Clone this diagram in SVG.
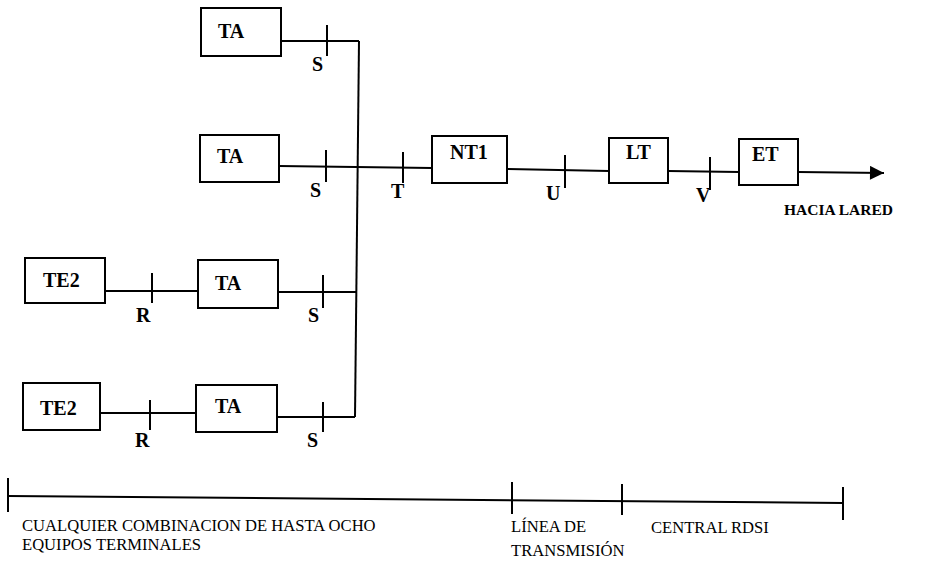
<svg xmlns="http://www.w3.org/2000/svg" width="944" height="564" viewBox="0 0 944 564">
<defs>
<style>
.box{fill:#fff;stroke:#000;stroke-width:2}
.ln{fill:none;stroke:#000;stroke-width:2}
.tk{fill:none;stroke:#000;stroke-width:2}
.bl{font-family:'Liberation Serif','DejaVu Serif','Times New Roman',serif;font-weight:bold;font-size:20px;fill:#000}
.lb{font-family:'Liberation Serif','DejaVu Serif','Times New Roman',serif;font-weight:bold;font-size:20px;fill:#000}
.sm{font-family:'Liberation Serif','DejaVu Serif','Times New Roman',serif;font-weight:bold;font-size:15.5px;fill:#000}
.rg{font-family:'Liberation Serif','DejaVu Serif','Times New Roman',serif;font-size:16.6px;fill:#000}
</style>
<marker id="arr" viewBox="0 0 10 10" refX="10" refY="5" markerWidth="16" markerHeight="14" markerUnits="userSpaceOnUse" orient="auto">
<path d="M0,0 L10,5 L0,10 z" fill="#000"/>
</marker>
</defs>
<rect width="944" height="564" fill="#fff"/>
<g id="connectors">
<path class="ln" d="M281,41 L359,41"/>
<path class="ln" d="M359,41 L355,417"/>
<path class="ln" d="M279,166 L432,168"/>
<path class="ln" d="M507,169 L609,171"/>
<path class="ln" d="M668,171 L739,172"/>
<path class="ln" d="M798,172 L884,173" marker-end="url(#arr)"/>
<path class="ln" d="M105,291 L198,291"/>
<path class="ln" d="M278,292 L357,292"/>
<path class="ln" d="M100,413 L196,413"/>
<path class="ln" d="M277,417 L355,417"/>
<path class="tk" d="M327,25 L327,56"/>
<path class="tk" d="M326,150 L326,182"/>
<path class="tk" d="M403,152 L403,183"/>
<path class="tk" d="M565,155 L565,188"/>
<path class="tk" d="M710,157 L710,190"/>
<path class="tk" d="M152,273 L152,303"/>
<path class="tk" d="M323,275 L323,308"/>
<path class="tk" d="M150,400 L150,430"/>
<path class="tk" d="M323,402 L323,432"/>
</g>
<g id="ta1"><rect class="box" x="201" y="8" width="80" height="48"/><text class="bl" x="218" y="38">TA</text></g>
<g id="ta2"><rect class="box" x="200" y="135" width="79" height="47"/><text class="bl" x="217" y="163">TA</text></g>
<g id="te2a"><rect class="box" x="25" y="258" width="80" height="45"/><text class="bl" x="43" y="287">TE2</text></g>
<g id="ta3"><rect class="box" x="198" y="260" width="80" height="48"/><text class="bl" x="215" y="290">TA</text></g>
<g id="te2b"><rect class="box" x="23" y="383" width="77" height="47"/><text class="bl" x="40" y="415">TE2</text></g>
<g id="ta4"><rect class="box" x="196" y="385" width="81" height="47"/><text class="bl" x="215" y="413">TA</text></g>
<g id="nt1"><rect class="box" x="432" y="136" width="75" height="47"/><text class="bl" x="450" y="159">NT1</text></g>
<g id="lt"><rect class="box" x="609" y="138" width="59" height="45"/><text class="bl" x="626" y="159">LT</text></g>
<g id="et"><rect class="box" x="739" y="139" width="59" height="46"/><text class="bl" x="752" y="161">ET</text></g>
<g id="labels">
<text class="lb" x="312" y="71">S</text>
<text class="lb" x="310" y="197">S</text>
<text class="lb" x="391" y="198">T</text>
<text class="lb" x="546" y="200">U</text>
<text class="lb" x="696" y="202">V</text>
<text class="lb" x="136" y="322">R</text>
<text class="lb" x="308" y="322">S</text>
<text class="lb" x="135" y="447">R</text>
<text class="lb" x="307" y="447">S</text>
<text class="sm" x="784" y="215">HACIA LARED</text>
</g>
<g id="timeline">
<path class="ln" d="M8,496 L843,503"/>
<path class="tk" d="M8,478 L8,512"/>
<path class="tk" d="M512,482 L512,514"/>
<path class="tk" d="M622,484 L622,515"/>
<path class="tk" d="M843,487 L843,520"/>
<text class="rg" x="22" y="531">CUALQUIER COMBINACION DE HASTA OCHO</text>
<text class="rg" x="22" y="550">EQUIPOS TERMINALES</text>
<text class="rg" x="511" y="532">LÍNEA DE</text>
<text class="rg" x="511" y="556">TRANSMISIÓN</text>
<text class="rg" x="651" y="533">CENTRAL RDSI</text>
</g>
</svg>
